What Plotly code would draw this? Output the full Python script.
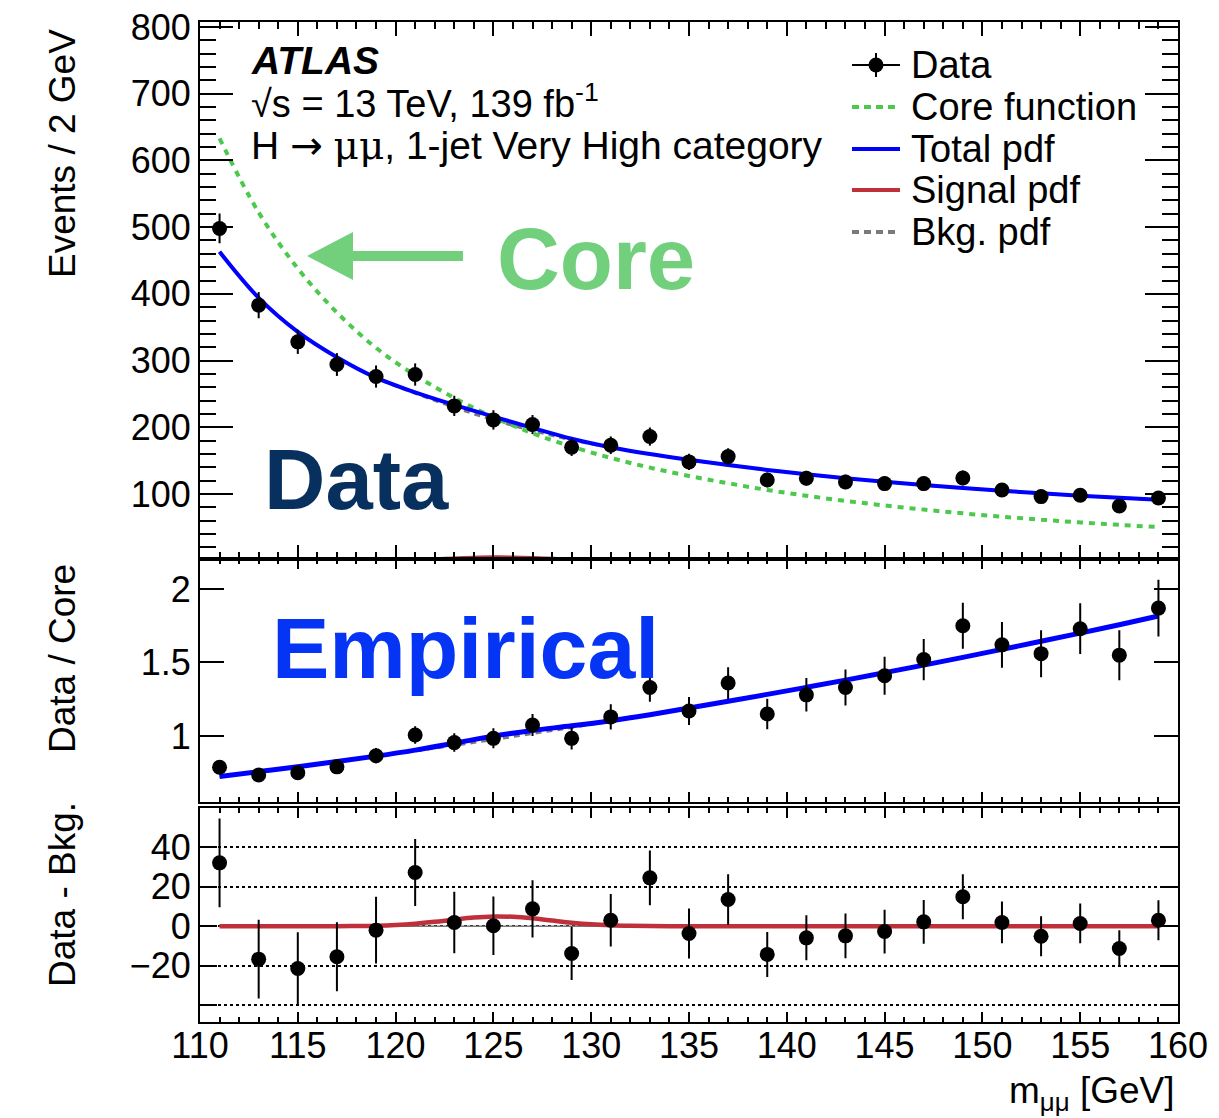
import plotly.graph_objects as go

# ---------------- data ----------------
mass = [111, 113, 115, 117, 119, 121, 123, 125, 127, 129, 131, 133, 135,
        137, 139, 141, 143, 145, 147, 149, 151, 153, 155, 157, 159]

events = [498, 383, 328, 294, 276, 279, 232, 211, 204, 170, 173, 186, 148,
          156, 121, 123.5, 118, 115.5, 115.5, 124, 106, 96, 98, 82, 94]
events_err = [22.3, 19.6, 18.1, 17.1, 16.6, 16.7, 15.2, 14.5, 14.3, 13.0, 13.2, 13.6, 12.2,
              12.5, 11.0, 11.1, 10.9, 10.7, 10.7, 11.1, 10.3, 9.8, 9.9, 9.1, 9.7]

core_fn = [633, 522, 438, 372, 319, 278, 244, 215, 191, 171, 154, 139.5, 127,
           116, 106, 97.3, 89.6, 82.7, 76.5, 70.9, 65.9, 61.4, 57.3, 53.6, 50.3]
bkg_pdf = [463, 394, 343, 305, 274, 251, 230, 211, 195, 181, 169.6, 159.7, 151.1,
           143.4, 136, 129.5, 123.6, 118.3, 113.4, 108.8, 104.7, 100.9, 97.4, 94.2, 91.3]
total_pdf = [463, 394, 343, 305, 274.3, 252.3, 233.4, 215.9, 199, 182.8, 170, 159.8, 151.1,
             143.4, 136, 129.5, 123.6, 118.3, 113.4, 108.8, 104.7, 100.9, 97.4, 94.2, 91.3]

sig_mass = [111, 115, 117, 118, 119, 120, 121, 122, 123, 124, 125, 126, 127, 128,
            129, 130, 131, 132, 133, 134, 135, 140, 150, 159]
sig_pdf = [0, 0, 0.03, 0.1, 0.26, 0.62, 1.26, 2.2, 3.35, 4.37, 4.92, 4.77, 4.0, 2.88,
           1.8, 0.96, 0.44, 0.18, 0.06, 0.02, 0, 0, 0, 0]

ratio = [0.787, 0.735, 0.75, 0.79, 0.866, 1.007, 0.955, 0.984, 1.075, 0.984, 1.13, 1.33, 1.17,
         1.36, 1.15, 1.28, 1.33, 1.41, 1.52, 1.75, 1.62, 1.56, 1.73, 1.55, 1.87]
ratio_err = [0.035, 0.038, 0.041, 0.046, 0.052, 0.060, 0.063, 0.068, 0.075, 0.076, 0.086, 0.097, 0.096,
             0.108, 0.104, 0.114, 0.122, 0.129, 0.14, 0.157, 0.156, 0.16, 0.173, 0.17, 0.193]
emp_bkg = [0.725, 0.758, 0.791, 0.826, 0.862, 0.899, 0.937, 0.976, 1.017, 1.058, 1.101, 1.145, 1.19,
           1.236, 1.283, 1.331, 1.38, 1.431, 1.482, 1.535, 1.589, 1.644, 1.70, 1.757, 1.816]
emp_total = [0.725, 0.758, 0.791, 0.826, 0.863, 0.904, 0.951, 0.999, 1.038, 1.069, 1.104, 1.145, 1.19,
             1.236, 1.283, 1.331, 1.38, 1.431, 1.482, 1.535, 1.589, 1.644, 1.70, 1.757, 1.816]

diff = [32.1, -16.7, -21.4, -15.5, -2.0, 27.2, 1.9, 0.2, 8.8, -13.8, 3.0, 24.5, -3.7,
        13.5, -14.3, -5.9, -4.9, -2.7, 2.2, 14.9, 1.9, -5.1, 1.4, -11.3, 3.0]
diff_err = [22.5, 20.0, 18.3, 17.5, 16.9, 17.0, 15.6, 14.8, 14.5, 13.5, 13.3, 13.9, 12.7,
            12.8, 11.4, 11.4, 11.4, 11.1, 11.1, 11.4, 10.6, 10.1, 10.1, 9.3, 10.1]
bkg_zero = [0] * len(mass)

x_ticks = [110, 115, 120, 125, 130, 135, 140, 145, 150, 155, 160]
top_ticks = [100, 200, 300, 400, 500, 600, 700, 800]
mid_ticks = [1, 1.5, 2]
mid_labels = ["1", "1.5", "2"]
bot_ticks = [-20, 0, 20, 40]
bot_labels = ["\u221220", "0", "20", "40"]

# ---------------- style ----------------
W, H = 1219, 1118
FONT = "Liberation Sans, Arial, Helvetica, sans-serif"
GREEN_LINE = "#4cc94c"
GREEN_TEXT = "#72cf7c"
BLUE = "#0000ff"
RED = "#c0303a"
GREY = "#7a7a7a"


def px(x):
    return x / W


def py(y):
    return 1 - y / H


XD = [px(200), px(1178)]
D_TOP = [py(559.3), py(21.7)]
D_MID = [py(801.7), py(559.3)]
D_BOT = [py(1021.7), py(807.7)]

fig = go.Figure()

marker = dict(color="black", size=15)
errstyle = dict(type="data", color="black", thickness=2, width=0)

# ---- top panel ----
fig.add_trace(go.Scatter(x=mass, y=bkg_pdf, mode="lines", line=dict(color=GREY, width=3, dash="6px,5px", shape="spline"),
                         xaxis="x", yaxis="y", showlegend=False))
fig.add_trace(go.Scatter(x=mass, y=core_fn, mode="lines", line=dict(color=GREEN_LINE, width=4, dash="6px,6px", shape="spline"),
                         xaxis="x", yaxis="y", showlegend=False))
fig.add_trace(go.Scatter(x=mass, y=total_pdf, mode="lines", line=dict(color=BLUE, width=4, shape="spline"),
                         xaxis="x", yaxis="y", showlegend=False))
fig.add_trace(go.Scatter(x=sig_mass, y=sig_pdf, mode="lines", line=dict(color=RED, width=4, shape="spline"),
                         xaxis="x", yaxis="y", showlegend=False))
fig.add_trace(go.Scatter(x=mass, y=events, mode="markers", marker=marker,
                         error_y=dict(array=events_err, **errstyle), xaxis="x", yaxis="y", showlegend=False))

# ---- middle panel ----
fig.add_trace(go.Scatter(x=mass, y=emp_bkg, mode="lines", line=dict(color=GREY, width=3, dash="6px,5px", shape="spline"),
                         xaxis="x2", yaxis="y2", showlegend=False))
fig.add_trace(go.Scatter(x=mass, y=emp_total, mode="lines", line=dict(color=BLUE, width=5, shape="spline"),
                         xaxis="x2", yaxis="y2", showlegend=False))
fig.add_trace(go.Scatter(x=mass, y=ratio, mode="markers", marker=marker,
                         error_y=dict(array=ratio_err, **errstyle), xaxis="x2", yaxis="y2", showlegend=False))

# ---- bottom panel ----
fig.add_trace(go.Scatter(x=mass, y=bkg_zero, mode="lines", line=dict(color=GREY, width=1.5),
                         xaxis="x3", yaxis="y3", showlegend=False))
fig.add_trace(go.Scatter(x=sig_mass, y=sig_pdf, mode="lines", line=dict(color=RED, width=4.5, shape="spline"),
                         xaxis="x3", yaxis="y3", showlegend=False))
fig.add_trace(go.Scatter(x=mass, y=diff, mode="markers", marker=marker,
                         error_y=dict(array=diff_err, **errstyle), xaxis="x3", yaxis="y3", showlegend=False))


def xax(major, minor, labels, anchor):
    return dict(range=[110, 160], domain=XD, anchor=anchor, showline=True, linecolor="black", linewidth=2,
                mirror="allticks", ticks="inside", ticklen=major, tickwidth=2, tickcolor="black",
                tickvals=x_ticks, ticktext=[str(v) for v in x_ticks], showticklabels=labels,
                minor=dict(dtick=1, tick0=110, ticks="inside", ticklen=minor, tickwidth=1.5, tickcolor="black"),
                showgrid=False, zeroline=False, automargin=False, ticklabelstandoff=-9,
                tickfont=dict(size=36, family=FONT, color="black"))


def yax(domain, rng, tickvals, ticktext, major, anchor, minor=None):
    d = dict(domain=domain, range=rng, anchor=anchor, showline=True, linecolor="black", linewidth=2,
             mirror="allticks", ticks="inside", ticklen=major, tickwidth=2, tickcolor="black",
             tickvals=tickvals, ticktext=ticktext, zeroline=False, automargin=False, showgrid=False,
             tickfont=dict(size=36, family=FONT, color="black"), ticklabelstandoff=0)
    if minor:
        d["minor"] = minor
    return d


fig.update_layout(
    xaxis=xax(14, 7, False, "y"),
    yaxis=yax(D_TOP, [2, 808], top_ticks, [str(v) for v in top_ticks], 33, "x",
              minor=dict(dtick=20, tick0=0, ticks="inside", ticklen=16, tickwidth=1.5, tickcolor="black")),
    xaxis2=xax(10, 5, False, "y2"),
    yaxis2=yax(D_MID, [0.553, 2.202], mid_ticks, mid_labels, 24, "x2"),
    xaxis3=xax(10, 5, True, "y3"),
    yaxis3=yax(D_BOT, [-48.4, 60.06], bot_ticks, bot_labels, 17, "x3",
               minor=dict(dtick=20, tick0=0, ticks="inside", ticklen=17, tickwidth=2, tickcolor="black",
                          showgrid=True, gridcolor="black", gridwidth=1.5, griddash="dot")),
)
fig.update_yaxes(selector=dict(anchor="x3"), showgrid=True, gridcolor="black", gridwidth=1.5, griddash="dot")
fig.update_xaxes(matches="x")

ann = []


def text(x, y, s, size, color="black", xanchor="left", angle=0):
    ann.append(dict(x=px(x), y=py(y), xref="paper", yref="paper", text=s, showarrow=False,
                    xanchor=xanchor, yanchor="middle", textangle=angle,
                    font=dict(family=FONT, size=size, color=color)))


# axis titles
text(62, 154, "Events / 2 GeV", 37, xanchor="center", angle=-90)
text(62, 659, "Data / Core", 37, xanchor="center", angle=-90)
text(62, 895, "Data - Bkg.", 37, xanchor="center", angle=-90)
text(1177, 1093, "m<sub>\u03bc\u03bc</sub> [GeV]", 37, xanchor="right")

# ATLAS labels
text(249, 60, "<b><i>ATLAS</i></b>", 39)
text(249, 101, "\u221as = 13 TeV, 139 fb<sup>-1</sup>", 38)
text(249, 146, "H <span style='font-family:DejaVu Sans'>\u2192</span> "
               "<span style='font-family:DejaVu Serif'>\u03bc\u03bc</span>, 1-jet Very High category", 39)

# big labels
text(495, 258, "<b>Core</b>", 87, color=GREEN_TEXT)
text(262, 480, "<b>Data</b>", 85, color="#08305f")
text(270, 648, "<b>Empirical</b>", 86, color="#0534f5")

# legend (text)
leg_y = [65, 107, 149, 190, 232]
leg_txt = ["Data", "Core function", "Total pdf", "Signal pdf", "Bkg. pdf"]
for yy, s in zip(leg_y, leg_txt):
    text(909, yy, s, 38)

shapes = []
# green arrow pointing left
shapes.append(dict(type="line", xref="paper", yref="paper", x0=px(348), x1=px(463), y0=py(256), y1=py(256),
                   line=dict(color=GREEN_TEXT, width=10)))
shapes.append(dict(type="path", xref="paper", yref="paper",
                   path=f"M {px(307)},{py(256)} L {px(353)},{py(232)} L {px(353)},{py(280)} Z",
                   fillcolor=GREEN_TEXT, line=dict(color=GREEN_TEXT, width=0)))

# legend keys
x0, x1 = px(852), px(900)
shapes.append(dict(type="line", xref="paper", yref="paper", x0=x0, x1=x1, y0=py(65), y1=py(65),
                   line=dict(color="black", width=2)))
shapes.append(dict(type="line", xref="paper", yref="paper", x0=px(876), x1=px(876), y0=py(53), y1=py(77),
                   line=dict(color="black", width=2)))
shapes.append(dict(type="circle", xref="paper", yref="paper", x0=px(868.5), x1=px(883.5), y0=py(72.5), y1=py(57.5),
                   fillcolor="black", line=dict(color="black", width=0)))
shapes.append(dict(type="line", xref="paper", yref="paper", x0=x0, x1=x1, y0=py(107), y1=py(107),
                   line=dict(color=GREEN_LINE, width=4, dash="7px,5px")))
shapes.append(dict(type="line", xref="paper", yref="paper", x0=x0, x1=x1, y0=py(149), y1=py(149),
                   line=dict(color=BLUE, width=4)))
shapes.append(dict(type="line", xref="paper", yref="paper", x0=x0, x1=x1, y0=py(190), y1=py(190),
                   line=dict(color=RED, width=4)))
shapes.append(dict(type="line", xref="paper", yref="paper", x0=x0, x1=x1, y0=py(232), y1=py(232),
                   line=dict(color=GREY, width=4, dash="7px,5px")))

fig.update_layout(
    width=W, height=H, autosize=False, template="none",
    margin=dict(l=0, r=0, t=0, b=0, pad=0),
    paper_bgcolor="white", plot_bgcolor="white",
    font=dict(family=FONT, color="black"),
    annotations=ann, shapes=shapes, showlegend=False,
)

fig.write_html("out.html")
